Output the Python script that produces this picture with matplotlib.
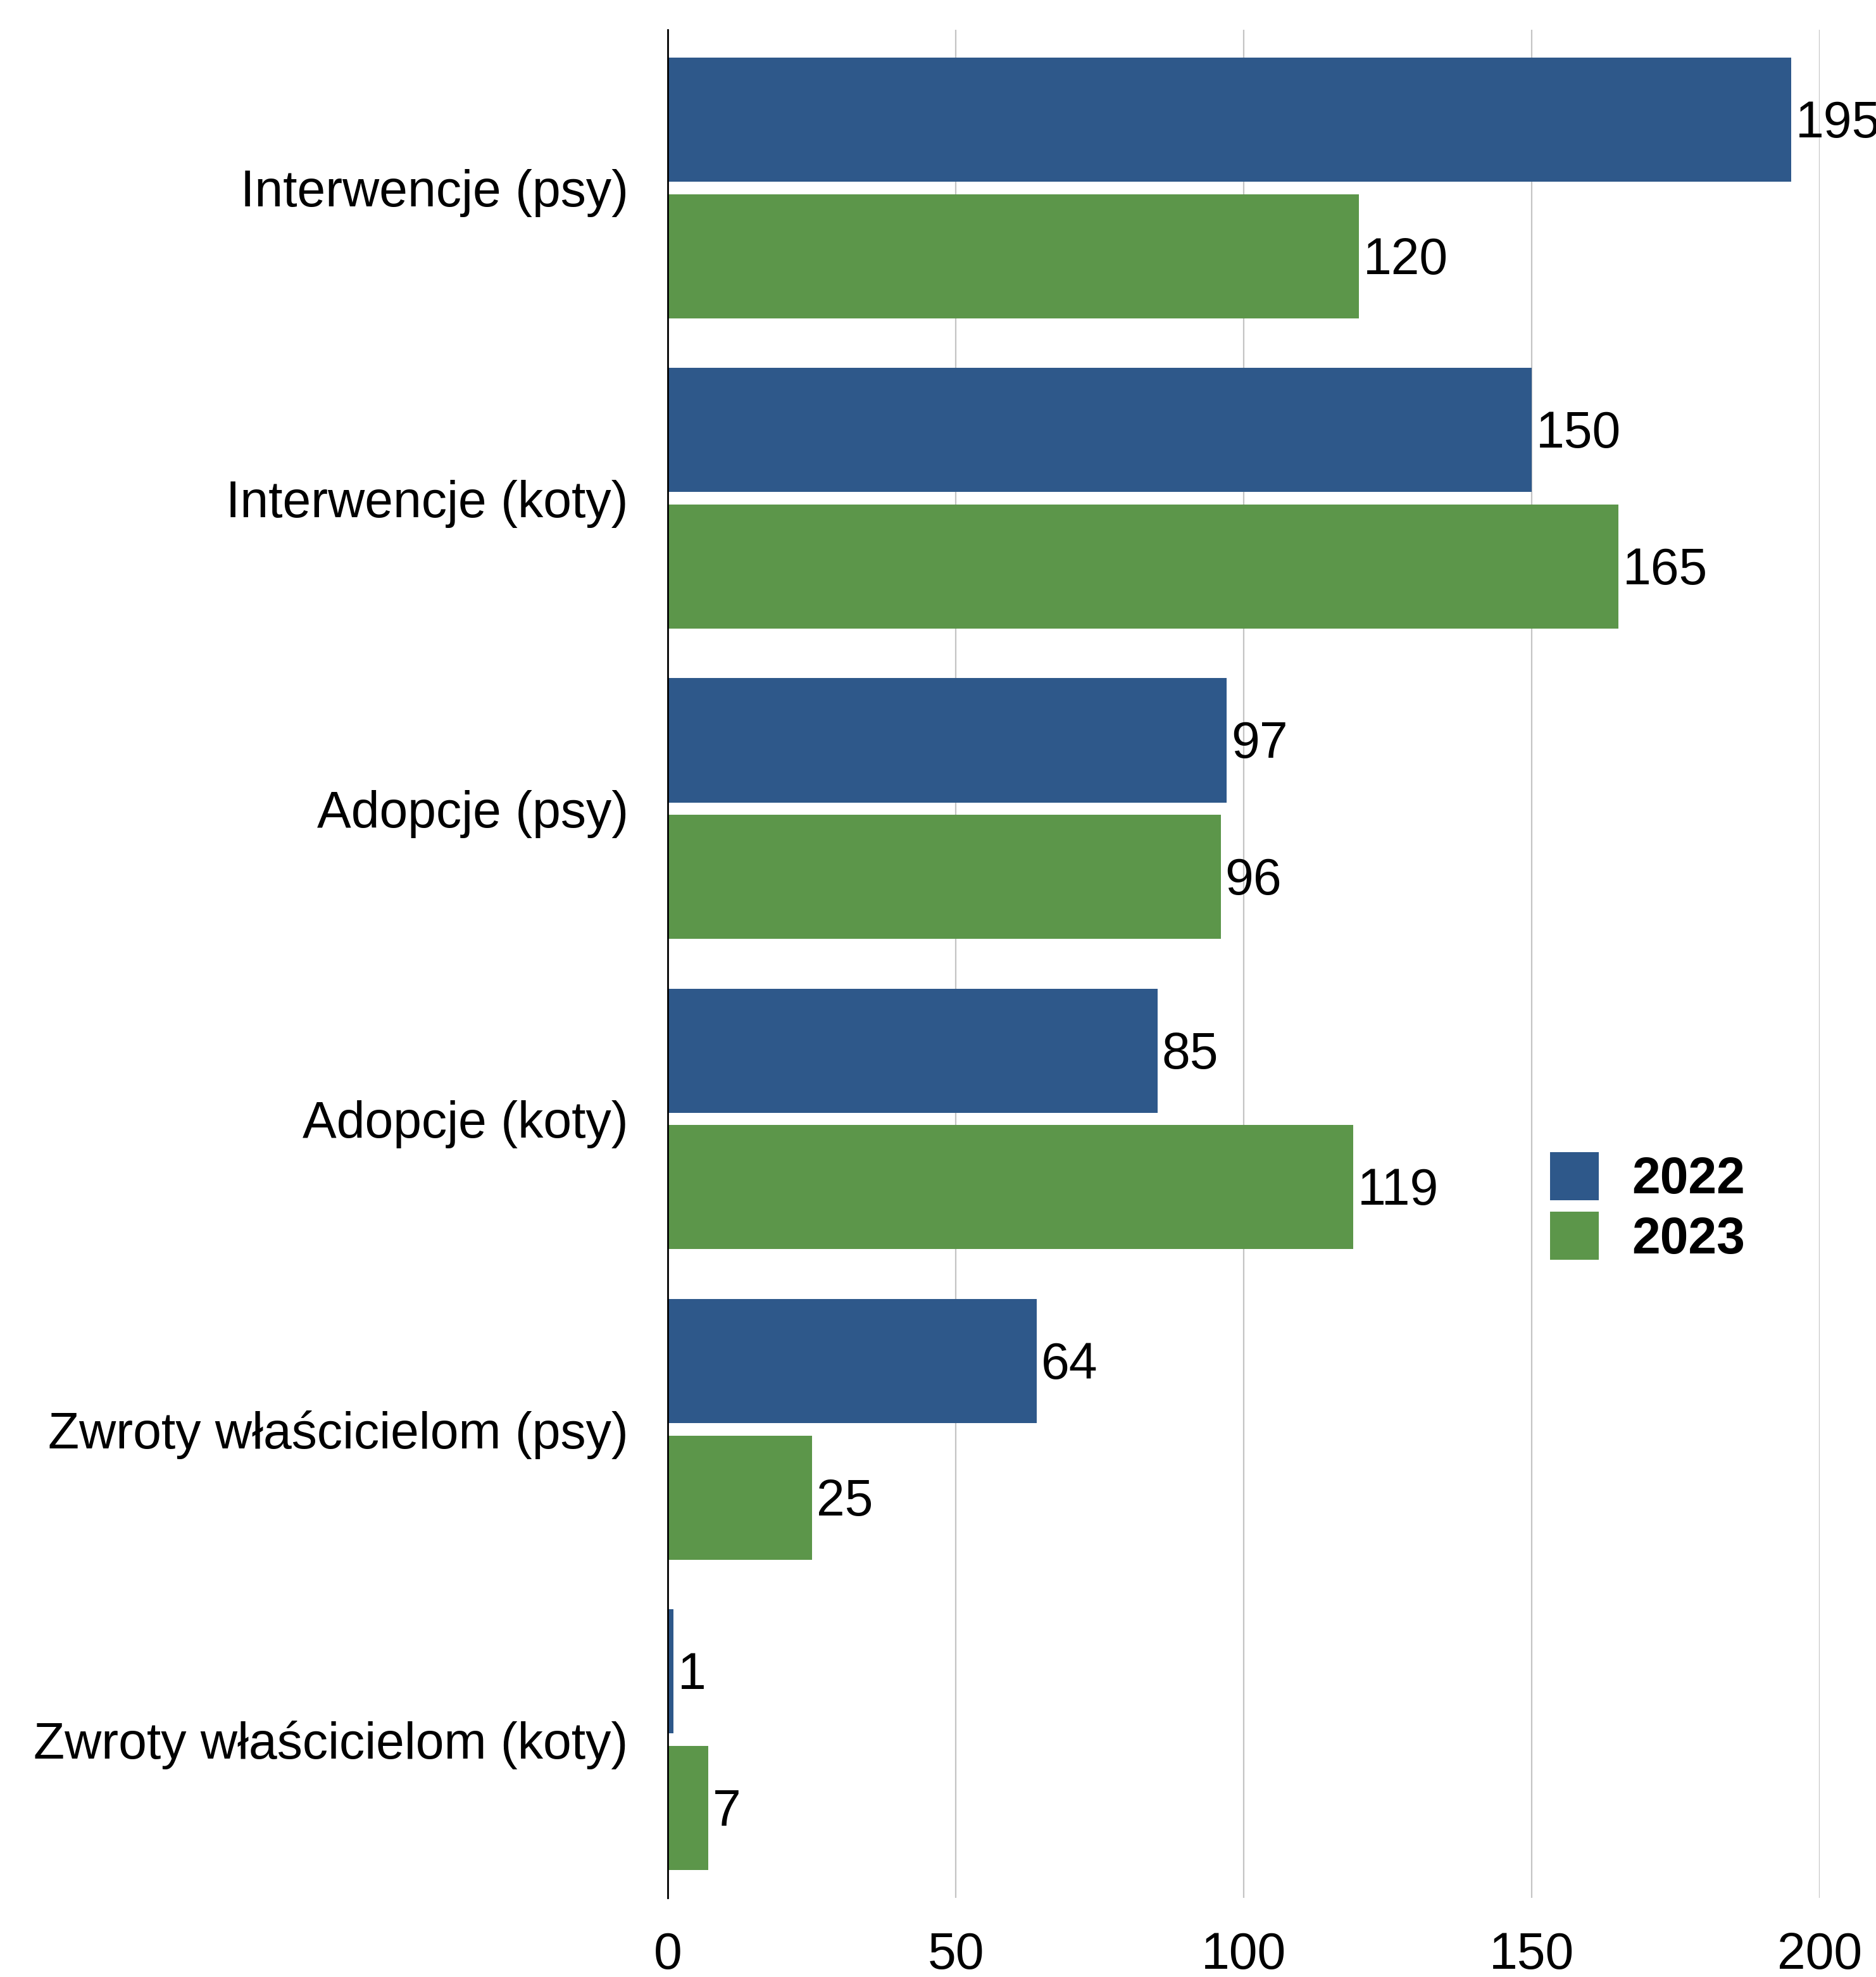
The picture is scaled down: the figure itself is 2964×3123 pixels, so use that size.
import numpy as np
import matplotlib.pyplot as plt

categories = ['Interwencje (psy)', 'Interwencje (koty)', 'Adopcje (psy)',
              'Adopcje (koty)', 'Zwroty właścicielom (psy)', 'Zwroty właścicielom (koty)']
values_2022 = [195, 150, 97, 85, 64, 1]
values_2023 = [120, 165, 96, 119, 25, 7]
years = ['2022', '2023']

blue = '#2E588A'
green = '#5C964A'

plt.rcParams['font.family'] = ['Liberation Sans', 'DejaVu Sans']

fig = plt.figure(figsize=(29.64, 31.23), dpi=100)
ax = fig.add_axes([0.356, 0.040, 0.614, 0.945])

y = np.arange(len(categories))
h = 0.4
off = 0.22
b1 = ax.barh(y - off, values_2022, height=h, color=blue, label=years[0], zorder=3)
b2 = ax.barh(y + off, values_2023, height=h, color=green, label=years[1], zorder=3)

fs = 58
for bars, vals in ((b1, values_2022), (b2, values_2023)):
    for bar, v in zip(bars, vals):
        ax.annotate(str(v), (bar.get_width(), bar.get_y() + bar.get_height() / 2),
                    xytext=(5, -5), textcoords='offset points',
                    ha='left', va='center', fontsize=fs,
                    annotation_clip=False)

ax.set_xlim(0, 200)
ax.set_ylim(5.51, -0.51)
ax.set_yticks(y)
ax.set_yticklabels(categories, fontsize=fs)
ax.set_xticks([0, 50, 100, 150, 200])
ax.tick_params(axis='both', length=0, labelsize=fs)
ax.tick_params(axis='y', pad=45)
ax.tick_params(axis='x', pad=38)

ax.grid(axis='x', color='#c4c4c4', linewidth=1.6, zorder=0)
for s in ['top', 'right', 'bottom']:
    ax.spines[s].set_visible(False)
ax.spines['left'].set_color('black')
ax.spines['left'].set_linewidth(2)
ax.spines['left'].set_zorder(4)

leg = ax.legend(loc='upper left', bbox_to_anchor=(2449 / 2964, 1 - 1820 / 3123),
                bbox_transform=fig.transFigure, frameon=False,
                prop={'weight': 'bold', 'size': fs},
                handlelength=0.95, handleheight=1.07, labelspacing=0.15,
                handletextpad=0.65, borderpad=0, borderaxespad=0)

fig.savefig('out.png', dpi=100)
